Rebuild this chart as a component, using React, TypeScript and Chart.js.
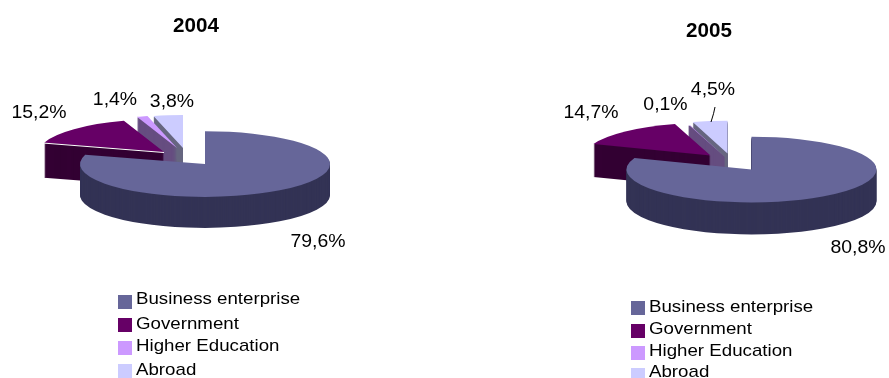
import React, { useEffect, useRef } from "react";
import { Chart, registerables } from "chart.js";

Chart.register(...registerables);

const categories = ["Business enterprise", "Government", "Higher Education", "Abroad"];
const values2004 = [79.6, 15.2, 1.4, 3.8];
const values2005 = [80.8, 14.7, 0.1, 4.5];
const topColors = ["#666699", "#660066", "#CC99FF", "#CCCCFF"];
const sideColors = ["#333355", "#330033", "#664D80", "#666680"];

const FONT = '"Liberation Sans", Arial, sans-serif';
const TILT = 0.263;

type PieSpec = {
  title: string;
  titleX: number;
  titleY: number;
  values: number[];
  left: number;
  width: number;
  padLeft: number;
  padRight: number;
  padBottom: number;
  depths: number[];
  explode: number[][];
  labelAnchors: number[][];
  legendX: number;
  legendY: number[];
  legendBaseline: number[];
  leader?: number[][];
  lipSlice?: number;
};

const pies: PieSpec[] = [
  {
    title: "2004",
    titleX: 196,
    titleY: 32,
    values: values2004,
    left: 0,
    width: 444,
    padLeft: 0,
    padRight: 34,
    padBottom: 50,
    depths: [31, 35, 31, 31],
    explode: [[0, 0], [-41, -12], [-28, -16], [-22, -16]],
    labelAnchors: [[318, 247], [39, 118], [115, 105], [172, 107]],
    legendX: 118,
    legendY: [295, 318, 341, 364],
    legendBaseline: [304, 329, 351, 375],
    lipSlice: 1,
  },
  {
    title: "2005",
    titleX: 265,
    titleY: 37,
    values: values2005,
    left: 444,
    width: 445,
    padLeft: 170,
    padRight: 0,
    padBottom: 39,
    depths: [32, 33, 32, 32],
    explode: [[0, 0], [-41, -14], [-27, -13], [-24, -16]],
    labelAnchors: [[414, 253], [147, 118], [221.5, 110], [269, 95]],
    legendX: 187,
    legendY: [301, 324, 346, 368],
    legendBaseline: [312, 334, 356, 377],
    leader: [[271, 107], [270, 113], [267, 122]],
  },
];

function stretchedText(
  ctx: CanvasRenderingContext2D,
  text: string,
  x: number,
  y: number,
  font: string,
  stretch: number,
  align: CanvasTextAlign,
) {
  ctx.save();
  ctx.translate(x, y);
  ctx.scale(stretch, 1);
  ctx.font = font;
  ctx.textAlign = align;
  ctx.textBaseline = "alphabetic";
  ctx.fillStyle = "#000000";
  ctx.fillText(text, 0, 0);
  ctx.restore();
}

// Draws the tilted pie: each slice is pushed out by its explosion, its walls are
// stacked copies of the arc in the darker colour, and its top face goes on last.
function tiltedPiePlugin(spec: PieSpec) {
  return {
    id: "tiltedPie",
    beforeDatasetDraw(chart: any) {
      const { ctx } = chart;
      const arcs = chart.getDatasetMeta(0).data;
      for (let i = arcs.length - 1; i >= 0; i--) {
        const arc = arcs[i];
        const [ex, ey] = spec.explode[i];
        const faceOptions = arc.options;
        const place = (drop: number) => {
          ctx.save();
          ctx.translate(ex, ey + drop);
          ctx.translate(arc.x, arc.y);
          ctx.scale(1, TILT);
          ctx.translate(-arc.x, -arc.y);
          arc.draw(ctx);
          ctx.restore();
        };
        // A very thin slice needs a border, or its wall would fade out at the centre.
        const thin = spec.values[i] < 1;
        arc.options = {
          ...faceOptions,
          backgroundColor: sideColors[i],
          borderColor: sideColors[i],
          borderWidth: thin ? 1.5 : 0,
        };
        for (let d = spec.depths[i]; d > 0; d--) place(d);
        arc.options = faceOptions;
        place(0);
        if (spec.lipSlice === i) {
          ctx.save();
          ctx.strokeStyle = "#FFFFFF";
          ctx.lineWidth = 1;
          ctx.beginPath();
          ctx.moveTo(
            arc.x + ex + arc.outerRadius * Math.cos(arc.startAngle),
            arc.y + ey + 0.5 + arc.outerRadius * Math.sin(arc.startAngle) * TILT,
          );
          ctx.lineTo(arc.x + ex, arc.y + ey + 0.5);
          ctx.stroke();
          ctx.restore();
        }
      }
      return false;
    },
    afterDraw(chart: any) {
      const { ctx } = chart;
      stretchedText(ctx, spec.title, spec.titleX, spec.titleY, `bold 20px ${FONT}`, 1.03, "center");
      spec.values.forEach((v, i) => {
        const [x, y] = spec.labelAnchors[i];
        stretchedText(ctx, `${v.toFixed(1).replace(".", ",")}%`, x, y, `18.5px ${FONT}`, 1.05, "center");
      });
      if (spec.leader) {
        const [a, b, c] = spec.leader;
        ctx.save();
        ctx.strokeStyle = "#000000";
        ctx.lineWidth = 1;
        ctx.beginPath();
        ctx.moveTo(a[0], a[1]);
        ctx.quadraticCurveTo(b[0], b[1], c[0], c[1]);
        ctx.stroke();
        ctx.restore();
      }
      categories.forEach((name, i) => {
        ctx.fillStyle = topColors[i];
        ctx.fillRect(spec.legendX, spec.legendY[i], 14, 14);
        stretchedText(ctx, name, spec.legendX + 18, spec.legendBaseline[i], `17px ${FONT}`, 1.1, "left");
      });
    },
  };
}

function PieCanvas({ spec }: { spec: PieSpec }) {
  const ref = useRef<HTMLCanvasElement>(null);
  useEffect(() => {
    const chart = new Chart(ref.current as HTMLCanvasElement, {
      type: "pie",
      data: {
        labels: categories,
        datasets: [
          {
            data: spec.values,
            backgroundColor: topColors,
            borderWidth: 0,
            clip: false,
          } as any,
        ],
      },
      options: {
        animation: false,
        responsive: false,
        radius: 125,
        layout: {
          padding: { left: spec.padLeft, right: spec.padRight, top: 0, bottom: spec.padBottom },
        },
        plugins: { legend: { display: false }, tooltip: { enabled: false } },
      } as any,
      plugins: [tiltedPiePlugin(spec)],
    });
    return () => chart.destroy();
  }, [spec]);
  return (
    <canvas
      ref={ref}
      width={spec.width}
      height={378}
      style={{ position: "absolute", left: spec.left, top: 0, width: spec.width, height: 378 }}
    />
  );
}

export default function App() {
  useEffect(() => {
    document.body.style.margin = "0";
    document.body.style.background = "#ffffff";
  }, []);
  return (
    <div style={{ position: "relative", width: 889, height: 378, overflow: "hidden", background: "#ffffff" }}>
      {pies.map((spec) => (
        <PieCanvas key={spec.title} spec={spec} />
      ))}
    </div>
  );
}
